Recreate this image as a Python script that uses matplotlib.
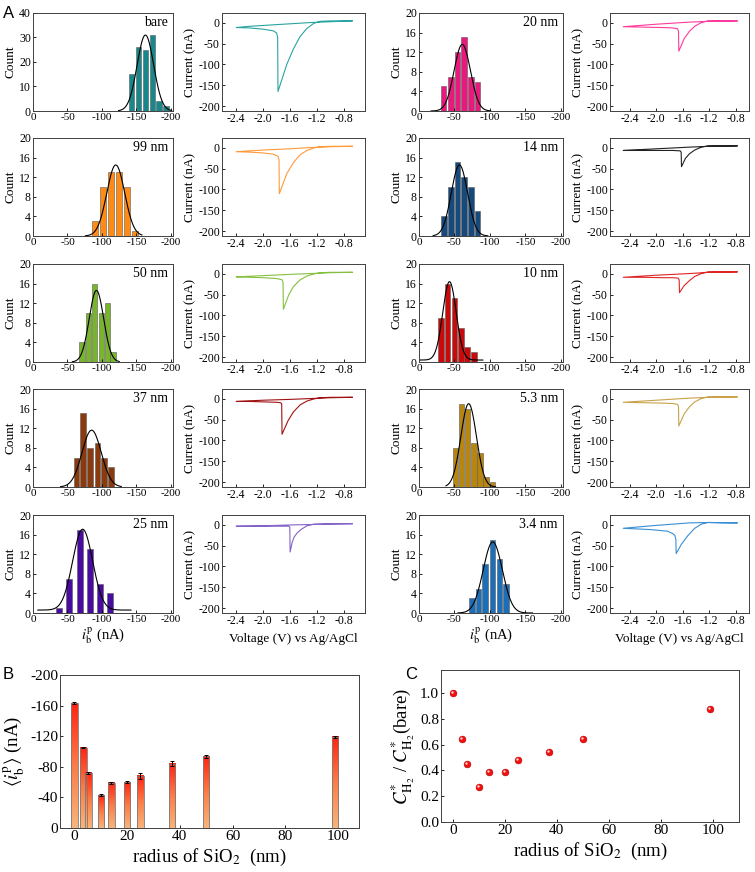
import numpy as np
import matplotlib
matplotlib.use('Agg')
import matplotlib.pyplot as plt
from matplotlib.colors import LinearSegmentedColormap
from matplotlib import transforms

plt.rcParams['font.family'] = ['Liberation Serif', 'DejaVu Serif']
plt.rcParams['mathtext.fontset'] = 'stix'
plt.rcParams['axes.unicode_minus'] = False

# ---- panel A: histograms (left column top->bottom, then right column) ----
labels = ['bare', '99 nm', '50 nm', '37 nm', '25 nm',
          '20 nm', '14 nm', '10 nm', '5.3 nm', '3.4 nm']
hist_colors = ['#16878a', '#ff8a14', '#78b52a', '#8a3a0c', '#4a0ca0',
               '#e8187c', '#174a7c', '#c80a0a', '#b8860e', '#1b6fb8']
cv_colors = ['#2aa3a3', '#ff9a3a', '#86c040', '#a01212', '#8463c8',
             '#ff3a9c', '#222222', '#e02424', '#c9a24a', '#3a8fd4']

hist_centers = [
    [-143, -153, -163, -173, -183, -193],
    [-90, -101.5, -113, -124.5, -136, -147.5],
    [-71, -80, -89.5, -99, -107.5, -116],
    [-63, -73, -83, -93.5, -103, -113],
    [-37.5, -52.5, -68, -82.5, -97, -112],
    [-35, -45, -54.5, -63.5, -73.5, -82.5],
    [-35, -45, -54.5, -63.5, -73.5, -82.5],
    [-31, -40, -50, -59.5, -68, -77.5],
    [-52, -60.5, -69, -77.5, -86, -94.5, -103],
    [-75, -84, -93.5, -103.5, -113.5, -123],
]
hist_counts = [
    [15, 26, 25, 31, 4, 2],
    [3, 10, 13, 13, 10, 1],
    [4, 10, 16, 10, 12, 2],
    [6, 15, 8, 9, 6, 4],
    [1, 7, 17, 13, 6, 4],
    [5, 7, 12, 15, 7, 6],
    [4, 10, 15, 12, 10, 5],
    [9, 16, 13, 7, 3, 2],
    [8, 17, 16, 9, 7, 2, 1],
    [3, 5, 10, 15, 11, 6],
]
bar_widths = [8, 9, 7.5, 8.5, 8, 7.5, 7.8, 8, 7.2, 8]
hist_ymax = [40, 20, 20, 20, 20, 20, 20, 20, 20, 20]
hist_ystep = [10, 4, 4, 4, 4, 4, 4, 4, 4, 4]

# gaussian fits drawn on the histograms
fit_mean = [-163, -120, -92, -85, -72, -61, -57, -43, -70, -104]
fit_sd = [12, 13, 10.5, 14, 14.5, 11.5, 11.5, 9.5, 11, 13.5]
fit_amp = [31, 14.5, 14.6, 11.6, 16.5, 13.6, 14.5, 16, 17, 14.5]
fit_base = [0, 0, 0, 0, 0.6, 0, 0, 0.4, 0, 0]
fit_lo = [-124, -76, -57, -40, -7, -17, -20, 0, -38, -55]
fit_hi = [-201, -158, -125, -128, -142, -101, -97, -90, -108, -160]

# ---- panel A: cyclic voltammograms (forward sweep then return) ----
cv_v = [
    [-0.68, -1.0, -1.15, -1.25, -1.35, -1.45, -1.55, -1.65, -1.78, -1.785, -1.80, -1.85, -2.0, -2.2, -2.4,
     -2.2, -2.0, -1.6, -1.3, -1.0, -0.68],
    [-0.68, -1.0, -1.15, -1.25, -1.35, -1.45, -1.55, -1.65, -1.76, -1.765, -1.78, -1.85, -2.0, -2.2, -2.4,
     -2.0, -1.6, -1.3, -1.0, -0.68],
    [-0.68, -1.0, -1.15, -1.25, -1.35, -1.45, -1.55, -1.62, -1.70, -1.705, -1.72, -1.8, -2.0, -2.2, -2.4,
     -2.0, -1.6, -1.3, -1.0, -0.68],
    [-0.68, -1.0, -1.15, -1.25, -1.35, -1.45, -1.55, -1.63, -1.72, -1.725, -1.74, -1.8, -2.0, -2.2, -2.4,
     -2.0, -1.6, -1.3, -1.0, -0.68],
    [-0.68, -1.0, -1.25, -1.35, -1.44, -1.50, -1.54, -1.57, -1.60, -1.605, -1.62, -1.7, -2.0, -2.4,
     -2.0, -1.6, -1.3, -1.0, -0.68],
    [-0.78, -1.0, -1.22, -1.32, -1.42, -1.50, -1.58, -1.66, -1.665, -1.68, -1.75, -1.9, -2.2, -2.5,
     -2.0, -1.5, -1.2, -0.78],
    [-0.78, -1.0, -1.22, -1.32, -1.42, -1.50, -1.56, -1.62, -1.625, -1.64, -1.75, -1.9, -2.2, -2.5,
     -2.0, -1.5, -1.2, -0.78],
    [-0.78, -1.0, -1.22, -1.32, -1.42, -1.50, -1.58, -1.65, -1.655, -1.67, -1.75, -1.9, -2.2, -2.5,
     -2.0, -1.5, -1.2, -0.78],
    [-0.78, -1.0, -1.22, -1.32, -1.42, -1.50, -1.58, -1.66, -1.665, -1.68, -1.75, -1.9, -2.2, -2.5,
     -2.0, -1.5, -1.2, -0.78],
    [-0.78, -1.0, -1.22, -1.32, -1.42, -1.52, -1.62, -1.70, -1.705, -1.72, -1.75, -1.83, -2.1, -2.5,
     -2.0, -1.5, -1.2, -0.78],
]
cv_i = [
    [5, 5, 4, -1, -13, -32, -62, -100, -165, -35, -24, -19, -15, -12, -11, -8, -6, -2, 1, 3, 5],
    [4, 4, 3, 0, -6, -16, -35, -62, -110, -28, -20, -15, -12, -10, -9, -5, -2, 1, 3, 4],
    [4, 4, 3, 0, -5, -14, -30, -50, -85, -20, -14, -11, -9, -8, -7, -4, -1, 1, 3, 4],
    [4, 4, 3, 0, -5, -14, -31, -52, -85, -12, -9, -8, -7, -6, -6, -3, -1, 1, 3, 4],
    [3, 3, 2, -2, -11, -20, -29, -42, -65, -5, -3, -3, -3, -3, -2, 0, 1, 2, 3],
    [5, 5, 5, 1, -8, -20, -38, -68, -20, -14, -12, -11, -10, -9, -3, 2, 4, 5],
    [5, 5, 5, 2, -5, -14, -25, -45, -10, -7, -6, -6, -6, -6, -2, 2, 4, 5],
    [5, 5, 5, 1, -6, -16, -28, -45, -14, -10, -9, -9, -8, -8, -3, 1, 4, 5],
    [5, 5, 5, 1, -7, -19, -36, -65, -18, -13, -11, -10, -9, -8, -3, 2, 4, 5],
    [5, 5, 6, 2, -8, -25, -46, -69, -35, -25, -21, -15, -11, -8, -1, 5, 6, 5],
]

# ---- panels B and C ----
radius = [0, 3.4, 5.3, 10, 14, 20, 25, 37, 50, 99]
mean_peak = [-163, -105, -72, -43, -59, -60, -68, -84, -94, -119]
peak_err = [1.5, 1, 1, 1.5, 1, 1.5, 4.5, 3, 2, 1.5]
conc_ratio = [1.0, 0.645, 0.449, 0.274, 0.386, 0.389, 0.48, 0.546, 0.645, 0.875]

W, H = 755, 872
fig = plt.figure(figsize=(W / 100, H / 100), dpi=100)


def px_axes(x0, y0, x1, y1):
    return fig.add_axes([x0 / W, 1 - y1 / H, (x1 - x0) / W, (y1 - y0) / H])


def style(ax, size):
    for s in ax.spines.values():
        s.set_color('#404040')
        s.set_linewidth(0.7)
    ax.tick_params(direction='in', length=2, width=0.6, labelsize=size, pad=1.5)


row_tops = [13, 138, 264, 389, 515]
row_h = 98
cols = [(33, 173, 222, 365), (419, 563, 610, 749)]

for k in range(10):
    c, r = divmod(k, 5)
    hx0, hx1, cx0, cx1 = cols[c]
    y0 = row_tops[r]

    ax = px_axes(hx0, y0, hx1, y0 + row_h)
    ax.bar(hist_centers[k], hist_counts[k], width=bar_widths[k], color=hist_colors[k],
           edgecolor='#5a5a5a', linewidth=0.4)
    xf = np.linspace(fit_lo[k], fit_hi[k], 300)
    yf = fit_base[k] + fit_amp[k] * np.exp(-(xf - fit_mean[k]) ** 2 / (2 * fit_sd[k] ** 2))
    ax.plot(xf, yf, color='k', lw=0.8)
    ax.set_xlim(0, -203)
    ax.set_ylim(0, hist_ymax[k])
    ax.set_xticks([0, -50, -100, -150, -200])
    ax.set_yticks(np.arange(0, hist_ymax[k] + 1, hist_ystep[k]))
    style(ax, 8.5)
    ax.tick_params(axis='x', labelsize=8)
    ax.set_ylabel('Count', fontsize=9.5, labelpad=2)
    ax.text(0.965, 0.9, labels[k], transform=ax.transAxes, ha='right', va='center', fontsize=10)
    if r == 4:
        ax.set_xlabel(r'$i_{\rm b}^{\rm p}$ (nA)', fontsize=10.5, labelpad=1)

    ax2 = px_axes(cx0, y0, cx1, y0 + row_h)
    ax2.plot(cv_v[k], cv_i[k], color=cv_colors[k], lw=0.8)
    if c == 0:
        ax2.set_xlim(-2.61, -0.49)
    else:
        ax2.set_xlim(-2.70, -0.60)
    ax2.set_ylim(-212, 24)
    ax2.set_xticks([-2.4, -2.0, -1.6, -1.2, -0.8])
    ax2.set_xticklabels(['-2.4', '-2.0', '-1.6', '-1.2', '-0.8'])
    ax2.set_yticks([0, -50, -100, -150, -200])
    style(ax2, 8.5)
    ax2.set_ylabel('Current (nA)', fontsize=9.5, labelpad=1)
    if r == 4:
        ax2.set_xlabel('Voltage (V) vs Ag/AgCl', fontsize=9.5, labelpad=4)

# ---- B ----
axb = px_axes(60, 675, 359, 828)
cmap_b = LinearSegmentedColormap.from_list('grad', ['#f7b57c', '#fb7c48', '#ff2412'])
grad = np.linspace(0, 1, 256).reshape(-1, 1)
bw = 2.4
for x, m in zip(radius, mean_peak):
    axb.imshow(grad, extent=(x - bw / 2, x + bw / 2, 0, m), origin='lower', aspect='auto',
               cmap=cmap_b, zorder=2)
axb.bar(radius, mean_peak, width=bw, fill=False, edgecolor='#7a7a7a', linewidth=0.6, zorder=3)
axb.errorbar(radius, mean_peak, yerr=peak_err, fmt='none', ecolor='k', elinewidth=0.7,
             capsize=1.5, capthick=0.7, zorder=4)
axb.set_xlim(-5.5, 108)
axb.set_ylim(0, -200)
axb.set_xticks([0, 20, 40, 60, 80, 100])
axb.set_yticks([0, -40, -80, -120, -160, -200])
style(axb, 11)
axb.set_xlabel(r'radius of SiO$_2$  (nm)', fontsize=13.5, labelpad=3)
axb.set_ylabel(r'$\langle i_{\rm b}^{\rm p}\rangle$ (nA)', fontsize=13.5, labelpad=2)

# ---- C ----
axc = px_axes(441, 670, 739, 822)
axc.scatter(radius, conc_ratio, s=24, color='#f01010', edgecolor='#c00000', linewidth=0.4, zorder=3)
hl = transforms.offset_copy(axc.transData, fig=fig, x=-0.7, y=0.7, units='points')
axc.scatter(radius, conc_ratio, s=3, color='#ffd0d0', linewidth=0, transform=hl, zorder=4)
axc.set_xlim(-4.5, 110)
axc.set_ylim(0, 1.18)
axc.set_xticks([0, 20, 40, 60, 80, 100])
axc.set_yticks([0.0, 0.2, 0.4, 0.6, 0.8, 1.0])
axc.set_yticklabels(['0.0', '0.2', '0.4', '0.6', '0.8', '1.0'])
style(axc, 11)
axc.set_xlabel(r'radius of SiO$_2$  (nm)', fontsize=13.5, labelpad=3)
axc.set_ylabel(r'$C^{*}_{\mathrm{H_2}}$ / $C^{*}_{\mathrm{H_2}}$(bare)', fontsize=13.5, labelpad=2)

for lab, x, y in [('A', 3, 6), ('B', 3, 667), ('C', 405, 667)]:
    fig.text(x / W, 1 - y / H, lab, family='Liberation Sans', fontsize=12, ha='left', va='top')

fig.savefig('out.png', dpi=100)
